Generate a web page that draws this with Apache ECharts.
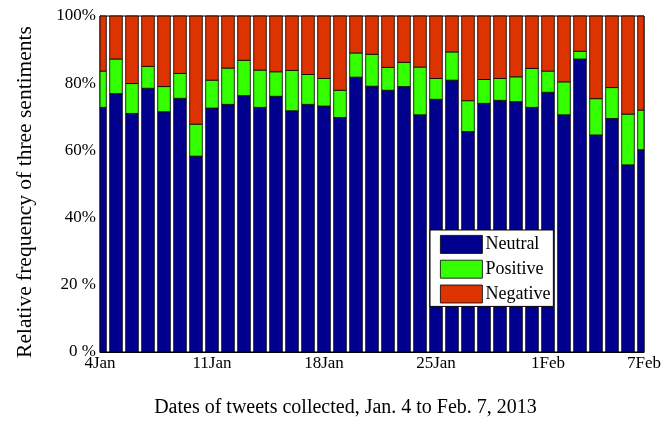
<!DOCTYPE html>
<html>
<head>
<meta charset="utf-8">
<script src="https://cdn.jsdelivr.net/npm/echarts@6/dist/echarts.min.js"></script>
<style>
html,body{margin:0;padding:0;background:#fff;}
#chart{width:670px;height:423px;}
</style>
</head>
<body>
<div id="chart"></div>
<script>
var dates = ['4Jan','5Jan','6Jan','7Jan','8Jan','9Jan','10Jan','11Jan','12Jan','13Jan','14Jan','15Jan','16Jan','17Jan','18Jan','19Jan','20Jan','21Jan','22Jan','23Jan','24Jan','25Jan','26Jan','27Jan','28Jan','29Jan','30Jan','31Jan','1Feb','2Feb','3Feb','4Feb','5Feb','6Feb','7Feb'];
var tickDates = ['4Jan','11Jan','18Jan','25Jan','1Feb','7Feb'];
var yTickValues = [0, 20, 40, 60, 80, 100];
var yTickLabels = ['0 %', '20 %', '40%', '60%', '80%', '100%'];
var neutral = [72.8,76.9,71.0,78.5,71.5,75.5,58.3,72.6,73.7,76.3,72.8,76.1,71.8,73.7,73.2,69.8,81.8,79.1,77.9,79.0,70.6,75.2,80.9,65.6,74.0,74.9,74.5,72.8,77.3,70.6,87.2,64.6,69.5,55.7,60.2];
var positive = [10.8,10.3,8.9,6.5,7.5,7.4,9.5,8.3,10.8,10.5,11.1,7.3,12.0,8.9,8.2,8.1,7.2,9.5,6.8,7.2,14.2,6.2,8.4,9.2,7.1,6.5,7.4,11.6,6.3,9.8,2.3,10.8,9.2,15.1,11.8];
var negative = [16.4,12.8,20.1,15.0,21.0,17.1,32.2,19.1,15.5,13.2,16.1,16.6,16.2,17.4,18.6,22.1,11.0,11.4,15.3,13.8,15.2,18.6,10.7,25.2,18.9,18.6,18.1,15.6,16.4,19.6,10.5,24.6,21.3,29.2,28.0];

var FONT = "'Liberation Serif','Times New Roman',serif";
var chart = echarts.init(document.getElementById('chart'), null, {renderer: 'canvas'});

// build stacked [index, base, top] triples from the value arrays
var layers = [neutral, positive, negative];
var stacked = layers.map(function () { return []; });
dates.forEach(function (d, i) {
  var base = 0;
  layers.forEach(function (arr, k) {
    stacked[k].push([i, base, base + arr[i]]);
    base += arr[i];
  });
});

function renderBar(params, api) {
  var i = api.value(0);
  var p0 = api.coord([i, api.value(1)]);
  var p1 = api.coord([i, api.value(2)]);
  var w = api.size([1, 0])[0] * 0.79;
  var cs = params.coordSys;
  var rect = echarts.graphic.clipRectByRect(
    {x: p0[0] - w / 2, y: p1[1], width: w, height: p0[1] - p1[1]},
    {x: cs.x, y: cs.y, width: cs.width, height: cs.height}
  );
  if (!rect) return null;
  return {type: 'rect', shape: rect, style: api.style({stroke: '#000', lineWidth: 0.8})};
}
function barSeries(name, data, color) {
  return {
    name: name, type: 'custom', data: data, renderItem: renderBar,
    encode: {x: 0, y: 2},
    itemStyle: {color: color, borderColor: '#000', borderWidth: 0.8},
    emphasis: {disabled: true}
  };
}
chart.setOption({
  animation: false,
  backgroundColor: '#fff',
  grid: {left: 100, right: 26, top: 16, bottom: 68, show: true, borderColor: '#000', borderWidth: 1, backgroundColor: 'transparent'},
  legend: {
    orient: 'vertical', left: 430, top: 230,
    data: ['Neutral', 'Positive', 'Negative'],
    itemWidth: 42, itemHeight: 18, itemGap: 6,
    padding: [5, 3, 3, 10],
    backgroundColor: '#fff', borderColor: '#000', borderWidth: 1, borderRadius: 0,
    icon: 'rect',
    itemStyle: {borderColor: '#000', borderWidth: 0.8},
    textStyle: {fontFamily: FONT, fontSize: 18, color: '#000', padding: [0, 0, 0, -2]},
    selectedMode: false
  },
  xAxis: {
    type: 'category', data: dates, boundaryGap: false,
    name: 'Dates of tweets collected, Jan. 4 to Feb. 7, 2013',
    nameLocation: 'middle', nameGap: 46,
    nameTextStyle: {fontFamily: FONT, fontSize: 20, color: '#000', padding: [0, 53, 0, 0]},
    axisLine: {show: true, lineStyle: {color: '#000', width: 1}},
    axisTick: {show: false},
    axisLabel: {
      fontFamily: FONT, fontSize: 17, color: '#000', margin: 3,
      interval: function (idx, val) { return tickDates.indexOf(val) >= 0; }
    },
    splitLine: {show: false}
  },
  yAxis: {
    type: 'value', min: 0, max: 100, interval: 20,
    name: 'Relative frequency of three sentiments',
    nameLocation: 'middle', nameGap: 64,
    nameTextStyle: {fontFamily: FONT, fontSize: 21.5, color: '#000', padding: [0, 16, 0, 0]},
    axisLine: {show: true, lineStyle: {color: '#000', width: 1}},
    axisTick: {show: false},
    axisLabel: {
      fontFamily: FONT, fontSize: 17, color: '#000', margin: 4,
      formatter: function (v) { var i = yTickValues.indexOf(v); return i >= 0 ? yTickLabels[i] : ''; }
    },
    splitLine: {show: false}
  },
  series: [
    barSeries('Neutral', stacked[0], '#00008F'),
    barSeries('Positive', stacked[1], '#33FF00'),
    barSeries('Negative', stacked[2], '#DD3300')
  ]
});
</script>
</body>
</html>
